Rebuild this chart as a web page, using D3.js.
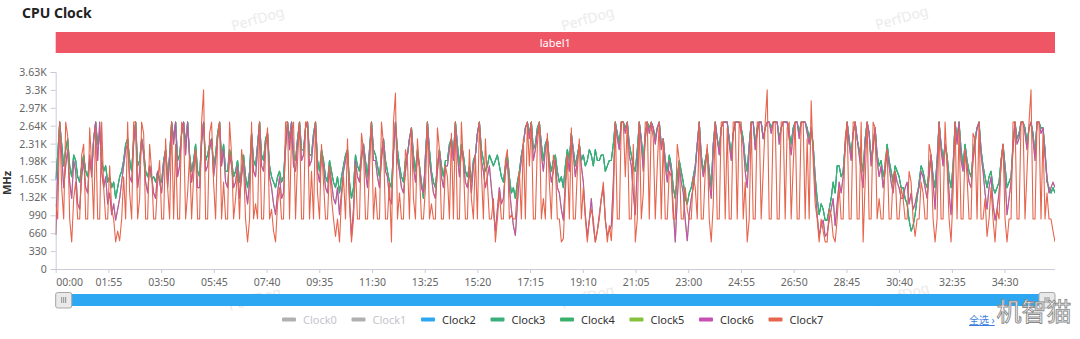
<!DOCTYPE html>
<html><head><meta charset="utf-8">
<script src="https://cdn.jsdelivr.net/npm/d3@7"></script>
<style>
html,body{margin:0;padding:0;background:#fff;}
svg{display:block;font-family:"Noto Sans","Noto Sans CJK SC",sans-serif;}
</style></head><body>
<svg id="c" width="1080" height="339"></svg>
<script>
// ---------- data ----------
const chartTitle = "CPU Clock";
const bandLabel = "label1";
const yAxisName = "MHz";
const seriesNames = ["Clock0","Clock1","Clock2","Clock3","Clock4","Clock5","Clock6","Clock7"];
const hiddenSeries = ["Clock0","Clock1"];
const seriesColors = ["#aaaaaa","#aaaaaa","#2ea7f2","#3aae7b","#3bb06c","#86c13b","#c64fb4","#e6654d"];
const yTickValues = [0,330,660,990,1320,1650,1980,2310,2640,2970,3300,3630];
const xTickSeconds = [0,115,230,345,460,575,690,805,920,1035,1150,1265,1380,1495,1610,1725,1840,1955,2070];
const durationSeconds = 2180;

// Clock4 (green)
const clock4 = [
1650,2100,2707,2300,1900,2200,2400,1900,1700,2100,2000,1700,1600,1900,2100,1800,1700,2000,1800,2400,
2707,2300,2500,2000,1800,1900,1600,1700,1500,1600,1300,1500,1700,1800,2000,2300,2400,2000,1800,2400,
2707,1900,2000,2400,2200,1800,1700,1900,1650,1700,1600,1800,1650,1600,2000,2200,1700,2100,2707,2400,
2707,2000,2100,2500,2707,2300,2707,2100,1800,2000,2300,1800,1700,2400,2707,2000,2100,2300,2400,1900,
2100,2500,2707,2000,2300,1800,1800,2200,2000,1700,1800,2000,1600,1800,2100,1700,1500,1800,2500,2000,
1900,2300,2707,2100,2000,2400,2500,1900,1700,1600,1500,1700,1800,1600,1700,2300,2707,2400,2707,2100,
2000,2400,2707,2200,2200,2600,2707,2100,2100,2500,2707,2000,1800,2200,2000,1700,1600,2000,1800,1600,
1500,1700,1400,1700,1900,2100,2200,1600,1300,1500,2100,1900,1800,2100,2300,2000,1700,2200,2707,2200,
2100,1900,1700,2100,2400,2000,1800,1600,1500,2200,2707,2200,1900,1700,1600,2000,2100,2400,2600,2100,
1800,2200,1900,1600,1300,2100,2707,2200,1800,1600,1500,1900,2200,1900,1700,2000,2000,2300,2400,2100,
2707,2300,1900,2300,2100,1800,1700,1900,1600,2000,2100,2500,2707,2200,2000,1800,1900,2100,2000,1900,
2000,2100,1900,1700,1600,1900,2100,1700,1400,1500,1300,1600,1800,2100,2300,2600,2707,2500,2707,2200,
2300,2600,2707,2300,2000,2300,2400,2000,1800,2000,2100,1800,1600,1700,1500,1900,2200,2000,2500,2200,
1900,2100,2300,2000,2100,1900,2000,2200,2100,1900,2200,2000,2000,2100,2100,1800,1900,2000,2000,2300,
2707,2500,2300,2707,2707,2600,2707,2300,2100,1900,1800,2200,2707,2400,2000,2500,2707,2600,2707,2600,
2400,2600,2707,2300,2400,2000,1800,2100,1900,1500,1300,1700,2000,1800,1600,1300,1200,1400,1500,1700,
1900,2300,2707,2100,1800,2000,2200,1800,1500,2300,2707,2400,2200,2600,2707,2707,2707,2400,2100,2500,
2707,2707,2707,2600,2400,2000,1800,2300,2707,2707,2300,2600,2707,2707,2400,2600,2707,2707,2600,2707,
2707,2707,2400,2600,2707,2707,2707,2500,2300,2600,2707,2707,2500,2707,2707,2707,2600,2400,2600,2300,
1700,1300,1000,1200,1100,900,900,1100,1300,1600,1400,1900,1900,1700,1800,2300,2707,2400,2100,2500,
2707,2400,2200,2000,1800,2400,2707,2500,2000,2300,2600,2100,1900,2000,1700,1900,2300,2000,1800,1600,
1900,1800,1700,1500,1500,1300,1200,900,700,800,1000,1300,1600,1900,1800,1600,1500,1800,2100,1700,
1500,2000,2707,2300,2000,2300,2100,1700,1500,1900,2707,2400,2707,2200,1900,2300,2000,1800,1700,2100,
2400,2600,2707,2200,1900,1700,1500,1700,1800,1500,1400,1500,1600,2000,2300,1900,1500,1600,1700,2300,
2707,2400,2500,2707,2707,2600,2300,2600,2707,2500,2100,2707,2707,2600,2600,2200,1600,1500,1400,1500,
1400];

// Clock6 (magenta)
const clock6 = [
626,1800,2707,2100,1500,1900,2200,1600,1300,2000,1800,1200,1100,1700,2000,1500,1400,2100,1700,2400,
2707,2000,2707,1800,1500,1700,1200,1400,1000,1200,900,1100,1300,1600,1900,2200,2300,1700,1600,2300,
2707,1500,1800,2400,2100,1600,1400,1900,1700,1400,1300,1800,1600,1400,1900,2200,1500,2000,2707,2300,
2707,1700,1900,2500,2707,2100,2707,2000,1600,1900,2200,1500,1500,2300,2707,1800,1900,2200,2400,1700,
2000,2400,2707,1900,2200,1600,1500,2100,1900,1500,1600,1900,1300,1700,2000,1500,1200,1600,2500,1800,
1700,2200,2707,1900,1800,2300,2500,1700,1500,1200,1000,1400,1700,1300,1400,2200,2707,2200,2707,1900,
1800,2300,2707,2000,2100,2600,2707,1900,2000,2400,2707,1800,1600,2100,1900,1500,1400,1900,1600,1300,
1200,1500,1000,1400,1800,2000,2200,1300,600,1100,2000,1700,1600,2000,2300,1800,1500,2100,2707,2000,
2000,1700,1500,2000,2400,1800,1700,1300,1200,2100,2707,2000,1800,1500,1400,1800,2100,2400,2600,1900,
1600,2100,1900,1500,1400,2000,2707,2000,1700,1400,1300,1800,2200,1700,1500,1900,1900,2200,2400,2000,
2707,2100,1700,2200,2000,1600,1500,1800,1400,1900,2100,2500,2707,2000,1800,1500,1700,1900,1500,1100,
700,1100,1500,1200,1300,1800,2000,1500,1100,800,620,1200,1700,2000,2300,2600,2707,2400,2707,2000,
2200,2500,2707,2100,1800,2200,2400,1900,1600,1800,2000,1500,1400,1100,900,1600,2100,1800,2500,2100,
1700,2000,2300,1900,1600,1000,600,900,1300,800,499,700,1000,1300,1500,900,620,700,800,1600,
2707,2400,2200,2707,2707,2500,2707,2100,1900,1400,1000,1900,2707,2300,1800,2400,2707,2500,2707,2600,
2300,2600,2707,2200,2400,1900,1600,2000,1800,1100,499,1300,1900,1600,1400,900,520,1000,1300,1500,
1800,2300,2707,2000,1700,1900,2200,1600,1300,2200,2707,2400,2100,2600,2707,2707,2707,2300,2000,2500,
2707,2707,2707,2500,2300,1800,1500,2200,2707,2707,2200,2500,2707,2707,2400,2600,2707,2707,2500,2707,
2707,2707,2300,2600,2707,2707,2707,2400,2100,2500,2707,2707,2400,2707,2707,2707,2500,2300,2600,2200,
1500,1000,600,800,900,600,650,900,1100,1300,800,1200,1600,1400,1700,2200,2707,2300,2000,2500,
2707,2400,2100,1800,1500,2300,2707,2500,1900,2200,2600,2000,1700,1900,1500,1800,2200,1900,1600,1400,
1800,1600,1500,1300,1300,1500,1600,1200,1400,1100,1200,1400,1500,1800,1700,1500,1300,1700,2100,1600,
1100,1900,2707,2200,1900,2300,2000,1400,1000,1800,2707,2300,2707,2000,1800,2200,1900,1600,1500,2000,
2300,2600,2707,2100,1800,1400,1100,1500,1700,1200,900,1100,1400,1900,2300,1700,1000,1300,1600,2200,
2707,2300,2400,2707,2707,2500,2200,2600,2707,2400,2000,2707,2707,2500,2600,2100,1700,1400,1500,1600,
1500];

// Clock7 (orange)
const clock7 = [
1200,921,2707,1500,921,2707,2450,921,499,1300,1600,921,921,2100,2300,921,921,2600,1900,921,
2600,921,921,2707,1500,921,921,1900,1100,921,499,700,521,921,1700,921,2707,1400,921,2707,
2707,921,1300,2707,2500,921,921,2300,1800,921,921,1600,2000,921,921,2400,1500,921,2707,921,
2300,921,921,2707,2600,921,1400,2100,921,1700,2200,921,921,2707,3300,921,921,2500,2707,1600,
921,2400,2707,921,1600,921,921,2707,2100,921,1300,1800,921,2200,1900,921,499,921,2707,921,
1200,921,2707,921,921,2200,2600,921,1100,700,499,1200,1500,921,921,2707,2707,921,2500,2707,
921,2000,2707,921,921,2707,2707,921,1800,921,2707,1400,921,2300,1600,921,921,1900,1300,921,
600,921,499,1300,1700,921,2400,1200,499,921,1900,921,921,2500,2200,921,921,1800,2707,921,
1500,921,921,2707,2300,921,921,1600,499,2707,3240,921,1400,921,921,2200,2000,921,2600,1300,
921,2400,1800,921,921,1500,2707,921,1200,921,921,2600,2200,921,921,1900,1700,921,2500,921,
2707,921,921,2707,1900,921,921,2200,1300,921,2100,921,2707,1800,921,2400,1600,921,921,1300,
499,921,1400,921,921,2000,2200,921,1000,921,921,1500,1800,921,2400,921,2707,1900,2707,921,
921,2300,2707,921,1300,921,2500,1600,921,2100,1900,921,921,499,560,1400,2100,921,2600,921,
921,1800,2400,921,1500,921,499,900,1100,921,499,700,921,1300,1600,921,499,800,521,1200,
2707,921,921,2707,2707,1700,2707,921,921,2300,499,921,2707,921,1400,2707,2707,921,2707,2400,
921,1900,2707,921,2400,921,921,1800,1700,921,921,2300,2000,921,921,1500,1100,921,921,1700,
1500,921,2707,921,921,1800,2300,921,499,1200,2707,921,921,2707,2707,921,2600,921,921,2707,
2707,921,2707,2707,921,1600,499,921,2707,921,921,2707,2707,921,1800,2707,3300,921,921,2707,
2707,921,921,2707,2707,921,2600,2707,921,1900,2707,921,921,2707,2707,921,2400,921,3100,2000,
1200,921,499,921,700,499,499,1100,1000,600,499,921,1500,921,921,2400,2707,921,921,2707,
2707,921,921,2707,499,1600,2707,921,921,2707,2600,921,1300,921,921,2000,2200,921,921,1700,
1800,921,921,1500,1300,921,921,1800,1600,921,600,921,921,1600,1400,921,921,2300,2100,921,
499,921,2707,921,921,2707,1900,921,499,1400,2707,921,2600,921,921,2200,1700,921,921,2500,
2400,921,2707,921,921,1300,600,921,1500,921,499,1100,921,2000,2300,921,499,921,921,2707,
2707,921,921,2707,2707,921,1800,2707,3300,921,921,2707,2707,921,2500,921,1400,921,921,700,
499];

// Clocks 2/3 track Clock4 and Clock5 tracks Clock6 (hidden beneath them in the picture)
const clock2 = clock4, clock3 = clock4, clock5 = clock6;
const clock0 = [], clock1 = [];
const seriesData = [clock0, clock1, clock2, clock3, clock4, clock5, clock6, clock7];

// ---------- drawing ----------
const svg = d3.select("#c");
const L = 55.7, R = 1055, T = 72, B = 269;
const x = d3.scaleLinear().domain([0, durationSeconds]).range([L, R]);
const y = d3.scaleLinear().domain([0, 3630]).range([B, T]);

// watermarks (underneath)
const wm = [[258,20],[588,20],[902,19],[255,300],[588,298],[903,296]];
svg.append("g").selectAll("text").data(wm).join("text")
  .attr("transform", d => `translate(${d[0]},${d[1]}) rotate(-16)`)
  .attr("text-anchor","middle").attr("dominant-baseline","middle")
  .attr("font-size",14).attr("fill","#ebebeb").text("PerfDog");

// title
svg.append("text").attr("x",22).attr("y",18).attr("font-size",14).attr("font-weight","bold")
  .attr("fill","#222").text(chartTitle);

// label band
svg.append("rect").attr("x",L).attr("y",32).attr("width",R-L).attr("height",21).attr("fill","#ee5666");
svg.append("text").attr("x",(L+R)/2).attr("y",46.5).attr("text-anchor","middle")
  .attr("font-size",11).attr("fill","#fff").text(bandLabel);

// y axis
const fmtY = v => v >= 1000 ? String(+(v/1000).toFixed(2)) + "K" : String(v);
const gy = svg.append("g").attr("transform",`translate(${L},0)`)
  .call(d3.axisLeft(y).tickValues(yTickValues).tickFormat(fmtY).tickSize(5).tickPadding(4));
gy.selectAll("path,line").attr("stroke","#c9ccd8");
gy.selectAll("text").attr("font-size",10.5).attr("fill","#666").attr("font-family","Noto Sans, sans-serif");

svg.append("text").attr("transform","translate(11,183) rotate(-90)").attr("text-anchor","middle")
  .attr("font-size",11).attr("font-weight","bold").attr("fill","#333").text(yAxisName);

// x axis
const fmtX = s => { const m = Math.floor(s/60), ss = s%60; return String(m).padStart(2,"0")+":"+String(ss).padStart(2,"0"); };
const gx = svg.append("g").attr("transform",`translate(0,${B})`)
  .call(d3.axisBottom(x).tickValues(xTickSeconds).tickFormat(fmtX).tickSize(4).tickPadding(6));
gx.select(".domain").attr("d",`M${L},0.5H${R}`);
gx.selectAll("path,line").attr("stroke","#c9ccd8");
gx.selectAll("text").attr("font-size",10.5).attr("fill","#666").attr("font-family","Noto Sans, sans-serif");
gx.selectAll(".tick").filter((d,i)=>i===0).select("text").attr("text-anchor","start");

// lines
svg.append("clipPath").attr("id","clip").append("rect").attr("x",L).attr("y",T-20).attr("width",R-L).attr("height",B-T+20);
const lineG = svg.append("g").attr("clip-path","url(#clip)");
seriesNames.forEach((name, k) => {
  if (hiddenSeries.includes(name)) return;
  const data = seriesData[k];
  const step = durationSeconds / (data.length - 1);
  const line = d3.line().x((d,i) => x(i*step)).y(d => y(d));
  lineG.append("path").datum(data).attr("d", line).attr("fill","none")
    .attr("stroke", seriesColors[k]).attr("stroke-width",1.1).attr("stroke-linejoin","round");
});

// data zoom slider
svg.append("rect").attr("x",L).attr("y",294).attr("width",R-L).attr("height",12).attr("fill","#2ea7f2");
[L, R-16].forEach(hx => {
  const h = svg.append("g");
  h.append("rect").attr("x",hx).attr("y",292.5).attr("width",16).attr("height",15.5).attr("rx",2)
    .attr("fill","#e9e9e9").attr("stroke","#a8a8a8");
  [-2,0,2].forEach(o => h.append("line").attr("x1",hx+8+o).attr("x2",hx+8+o).attr("y1",297).attr("y2",303)
    .attr("stroke","#777").attr("stroke-width",0.8));
});

// legend
const legX0 = 303, legDX = 69.5, legY = 320;
const leg = svg.append("g");
seriesNames.forEach((name,k) => {
  const off = hiddenSeries.includes(name);
  const tx = legX0 + k*legDX;
  leg.append("rect").attr("x",tx-21).attr("y",legY-2.5).attr("width",14).attr("height",4).attr("rx",1)
    .attr("fill", off ? "#b0b0b0" : seriesColors[k]);
  leg.append("text").attr("x",tx).attr("y",legY+4).attr("font-size",11)
    .attr("fill", off ? "#c4c4cc" : "#333").text(name);
});

// select-all link and corner watermark
svg.append("text").attr("x",969).attr("y",324).attr("font-size",10).attr("fill","#3d7fe0")
  .attr("text-decoration","underline").text("全选 ›");
svg.append("text").attr("x",1034).attr("y",321).attr("text-anchor","middle")
  .attr("font-size",25).attr("font-family","Noto Sans CJK SC, sans-serif")
  .attr("fill","#ffffff").attr("stroke","#8a8a8a").attr("stroke-width",0.9).text("机智猫");
</script>
</body></html>
